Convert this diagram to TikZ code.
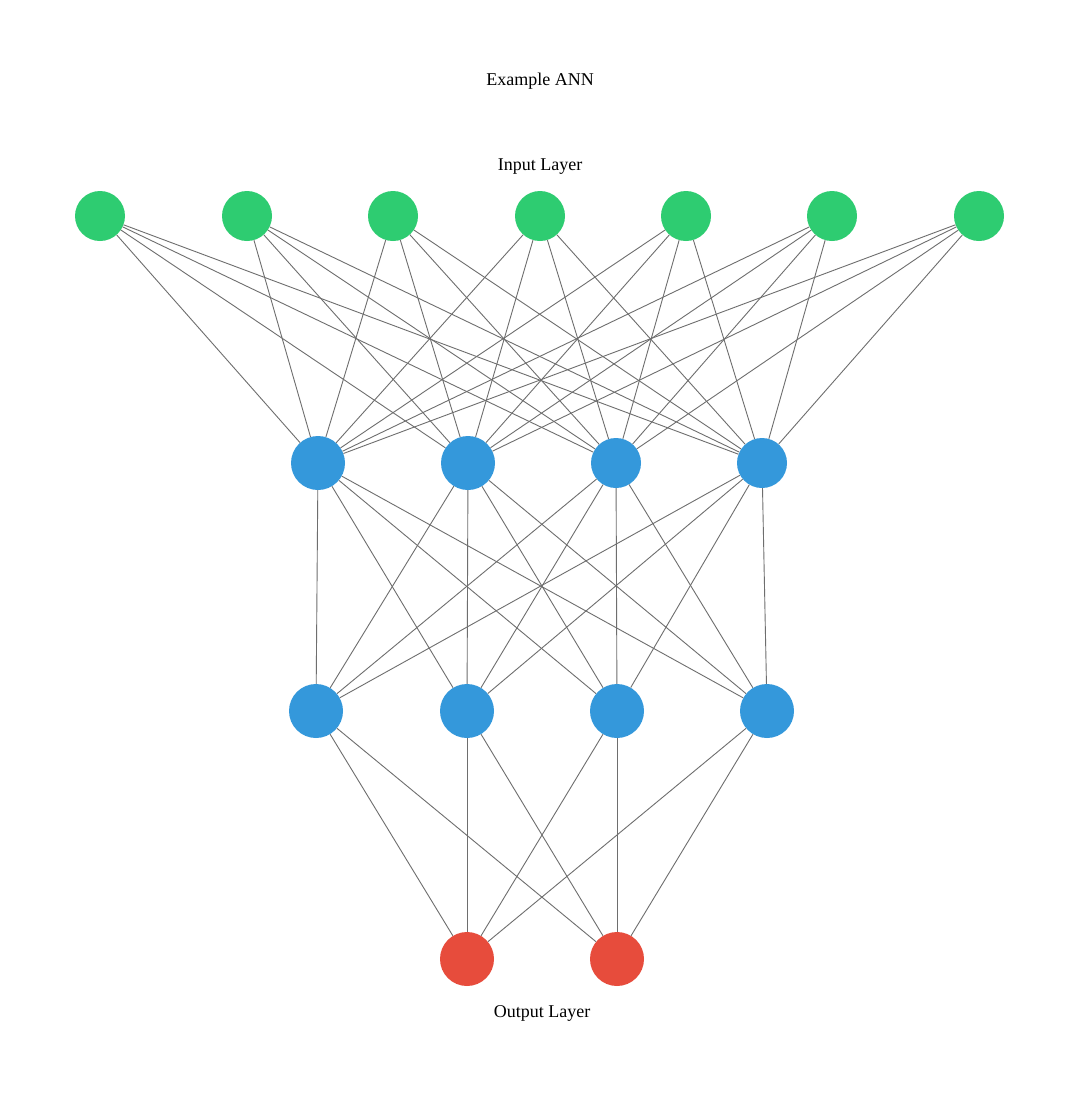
\documentclass[tikz,border=0pt]{standalone}
\usepackage{fontspec}
\setmainfont{Liberation Serif}
\definecolor{ingreen}{HTML}{2ECC71}
\definecolor{hidblue}{HTML}{3498DB}
\definecolor{outred}{HTML}{E74C3C}
\definecolor{edgegray}{HTML}{6E6E6E}
\begin{document}
\begin{tikzpicture}[x=1pt,y=-1pt,
  neuron/.style={circle,inner sep=0pt,minimum size=50pt},
  inneuron/.style={neuron,fill=ingreen},
  hidneuron/.style={neuron,fill=hidblue,minimum size=54pt},
  outneuron/.style={neuron,fill=outred,minimum size=54pt},
  edge/.style={draw=edgegray,line width=0.9pt},
  lbl/.style={font=\fontsize{18}{22}\selectfont,text=black}]
\useasboundingbox (0,0) rectangle (1080,1093);
\fill[white] (0,0) rectangle (1080,1093);
\node[lbl] (title) at (540,81) {Example ANN};
\node[lbl] (inlbl) at (540,167) {Input Layer};
\node[lbl] (outlbl) at (542,1013) {Output Layer};
% input layer
\foreach \i/\x in {1/100,2/247,3/393,4/540,5/686,6/832,7/979}
  \node[inneuron] (i\i) at (\x,216) {};
% hidden layer 1
\node[hidneuron] (a1) at (318,463) {};
\node[hidneuron] (a2) at (468,463) {};
\node[hidneuron,minimum size=50pt] (a3) at (616,463) {};
\node[hidneuron,minimum size=50pt] (a4) at (762,463) {};
% hidden layer 2
\node[hidneuron] (b1) at (316,711) {};
\node[hidneuron] (b2) at (467,711) {};
\node[hidneuron] (b3) at (617,711) {};
\node[hidneuron] (b4) at (767,711) {};
% output
\node[outneuron] (o1) at (467,959) {};
\node[outneuron] (o2) at (617,959) {};
\foreach \i in {1,...,7}
  \foreach \j in {1,...,4}
    \draw[edge] (i\i) -- (a\j);
\foreach \i in {1,...,4}
  \foreach \j in {1,...,4}
    \draw[edge] (a\i) -- (b\j);
\foreach \i in {1,...,4}
  \foreach \j in {1,2}
    \draw[edge] (b\i) -- (o\j);
\end{tikzpicture}
\end{document}
